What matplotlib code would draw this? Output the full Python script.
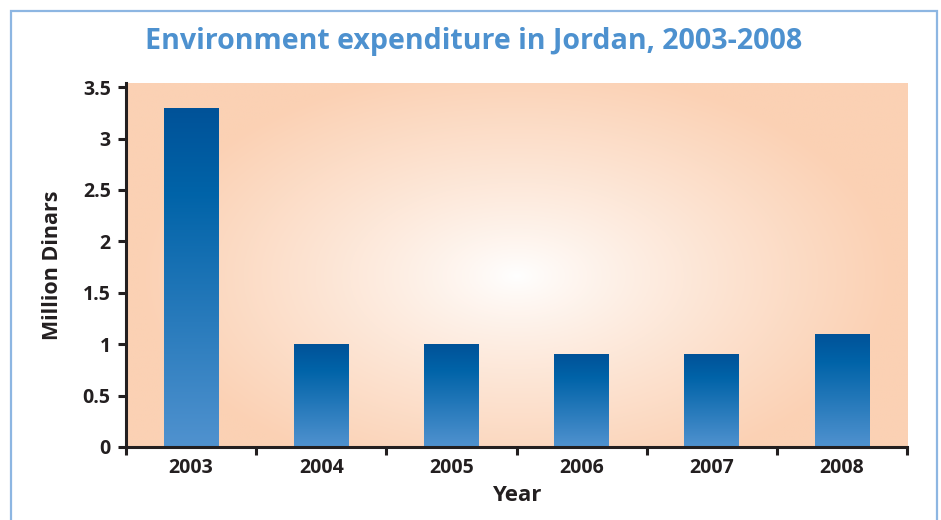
import matplotlib.pyplot as plt
import numpy as np
from matplotlib.patches import Rectangle

years = ['2003', '2004', '2005', '2006', '2007', '2008']
expenditure = [3.3, 1.0, 1.0, 0.9, 0.9, 1.1]
y_ticks = [0, 0.5, 1, 1.5, 2, 2.5, 3, 3.5]
y_tick_labels = ['0', '0.5', '1', '1.5', '2', '2.5', '3', '3.5']

plt.rcParams['font.family'] = ['Open Sans', 'DejaVu Sans']

fig = plt.figure(figsize=(9.41, 5.20), dpi=100)
ax = fig.add_axes([126 / 941, 1 - 447 / 520, (907 - 126) / 941, (447 - 83) / 520])

# light blue frame around the whole chart
fig.patches.append(Rectangle((11 / 941, -0.2), (937 - 11) / 941, 1.2 - 11 / 520,
                             transform=fig.transFigure, fill=False,
                             edgecolor='#8db6e2', linewidth=1.6))

# radial background: white centre fading to peach
gx, gy = np.meshgrid(np.linspace(0, 1, 400), np.linspace(0, 1, 300))
r = np.sqrt(((gx - 0.5) * 1.2) ** 2 + ((gy - 0.47) * 1.0) ** 2)
r = np.clip(r / 0.58, 0, 1) ** 0.85
white = np.array([1.0, 1.0, 1.0])
peach = np.array([251, 209, 180]) / 255
bg = white[None, None, :] * (1 - r[..., None]) + peach[None, None, :] * r[..., None]
ax.imshow(bg, extent=[0, 1, 0, 1], transform=ax.transAxes, aspect='auto',
          zorder=0, origin='lower')

x = np.arange(len(years))
bars = ax.bar(x, expenditure, width=0.42, color='none', zorder=2)

# vertical gradient for each bar: dark blue at top, light blue at bottom
t = np.linspace(0, 1, 256)
top = np.array([0, 82, 152]) / 255
mid = np.array([0, 99, 168]) / 255
bot = np.array([80, 146, 207]) / 255
cols = np.where(t[:, None] > 0.75,
                mid + (top - mid) * ((t[:, None] - 0.75) / 0.25),
                bot + (mid - bot) * (t[:, None] / 0.75))
grad = cols[:, None, :]
for b in bars:
    bx, by = b.get_x(), b.get_y()
    im = ax.imshow(grad, extent=[bx, bx + b.get_width(), by, by + b.get_height()],
                   aspect='auto', origin='lower', zorder=2)
    im.set_clip_path(b)

ax.set_xlim(-0.5, len(years) - 0.5)
ax.set_ylim(0, 3.54)
ax.set_yticks(y_ticks)
ax.set_yticklabels(y_tick_labels)
ax.set_xticks(x)
ax.set_xticklabels(years)
ax.set_xticks(np.arange(len(years) + 1) - 0.5, minor=True)

for s in ['top', 'right']:
    ax.spines[s].set_visible(False)
for s in ['left', 'bottom']:
    ax.spines[s].set_linewidth(2.2)
    ax.spines[s].set_color('#231f20')
    ax.spines[s].set_zorder(5)

ax.tick_params(axis='x', which='major', length=0, pad=8)
ax.tick_params(axis='x', which='minor', length=6, width=2.2, color='#231f20')
ax.tick_params(axis='y', length=6, width=2.2, color='#231f20', pad=5)
for lab in ax.get_xticklabels() + ax.get_yticklabels():
    lab.set_fontsize(14)
    lab.set_fontweight('bold')
    lab.set_color('#231f20')

ax.set_xlabel('Year', fontsize=16, fontweight='bold', color='#231f20', labelpad=5)
ax.set_ylabel('Million Dinars', fontsize=15.5, fontweight='bold', color='#231f20', labelpad=14)

fig.text(474 / 941, 1 - 42 / 520, 'Environment expenditure in Jordan, 2003-2008',
         ha='center', va='center', fontsize=20.6, fontweight='bold', color='#4d91cf')

plt.savefig('out.png', dpi=100)
